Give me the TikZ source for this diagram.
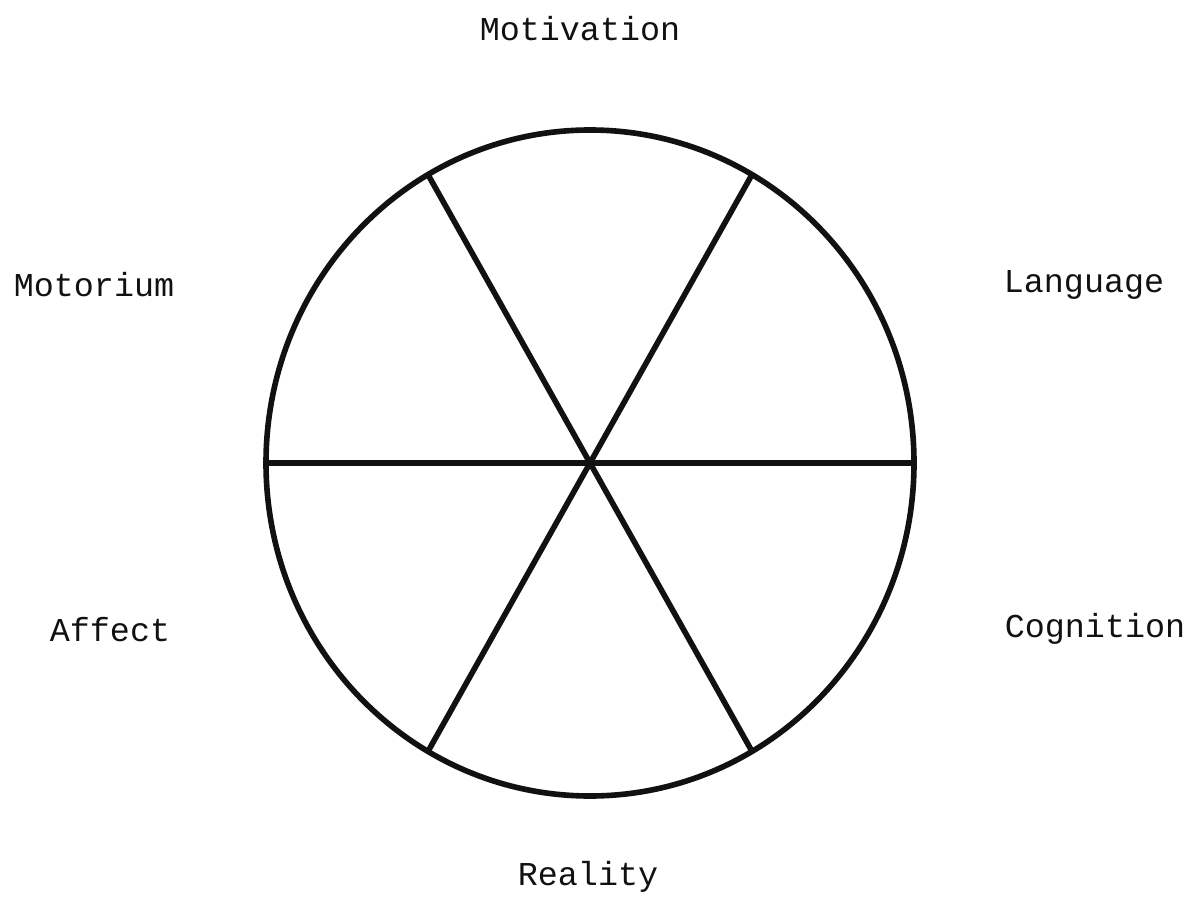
\documentclass[tikz,border=0pt]{standalone}
\usepackage{fontspec}
\setmonofont{Liberation Mono}
\usepackage{tikz}
\usetikzlibrary{positioning,calc}
\definecolor{ink}{HTML}{111111}

\begin{document}
\begin{tikzpicture}[x=0.02cm, y=-0.02cm,
    lbl/.style={font=\ttfamily\fontsize{19}{22}\selectfont, text=ink},
    wheel/.style={ink, line width=3.2pt}]
  \useasboundingbox (0,0) rectangle (1189,905);

  % wheel
  \coordinate (hub) at (590,463);
  \draw[wheel] (hub) ellipse [x radius=324, y radius=333];
  \foreach \a/\n in {0/e,60/ne,120/nw,180/w,240/sw,300/se}
    \coordinate (rim-\n) at ($(hub)+({324*cos(\a)},{-333*sin(\a)})$);
  \draw[wheel] (rim-w) -- (rim-e);
  \draw[wheel] (rim-nw) -- (rim-se);
  \draw[wheel] (rim-ne) -- (rim-sw);

  % labels
  \node[lbl] (motivation) at (580,29) {Motivation};
  \node[lbl] (language) at (1084,285) {Language};
  \node[lbl] (motorium) at (94,285) {Motorium};
  \node[lbl] (affect) at (110,630) {Affect};
  \node[lbl] (cognition) at (1095,629) {Cognition};
  \node[lbl] (reality) at (588,877) {Reality};
\end{tikzpicture}
\end{document}
